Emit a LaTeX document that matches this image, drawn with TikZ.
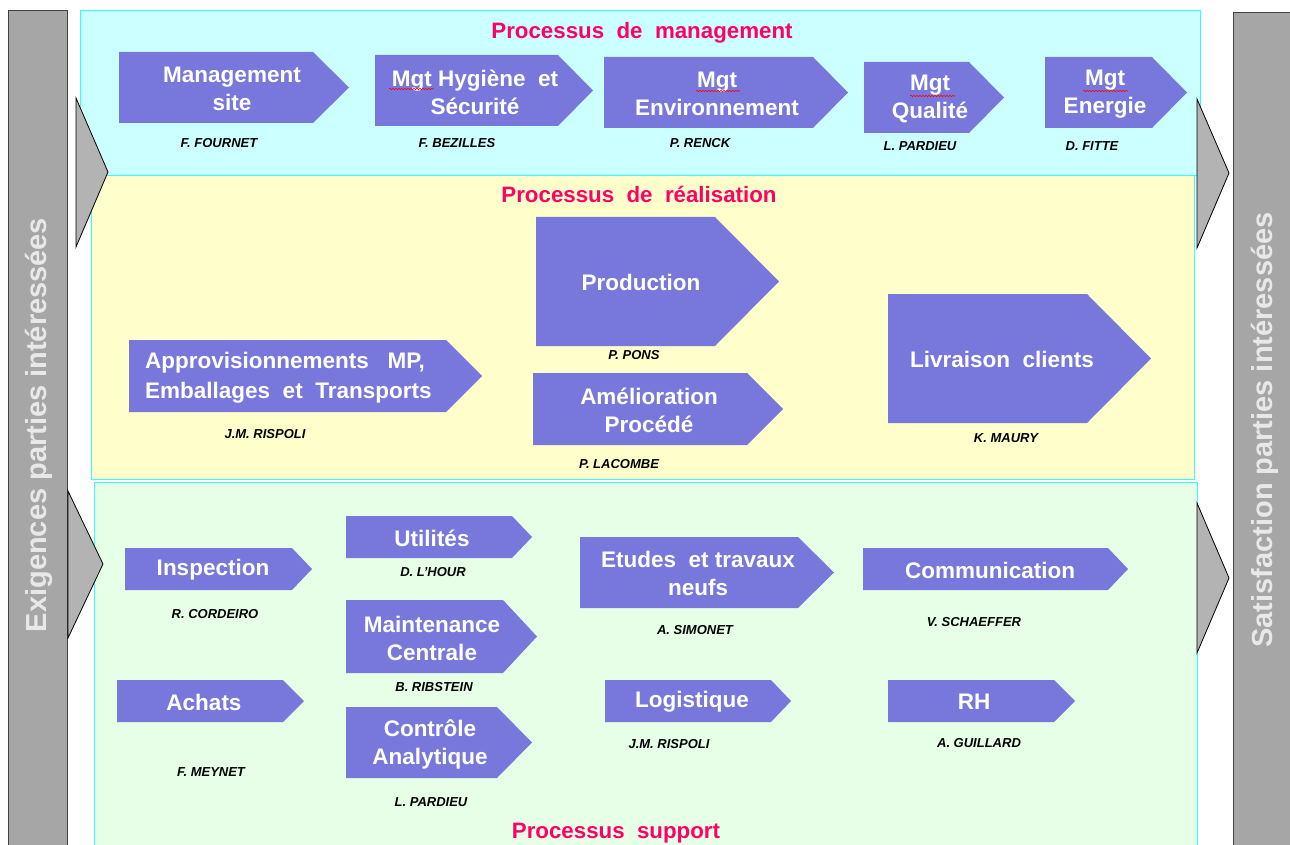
\documentclass[tikz,border=0pt]{standalone}
\usepackage{fontspec}
\setmainfont{Liberation Sans}
\usetikzlibrary{decorations.pathmorphing}
\definecolor{cyanbg}{HTML}{CCFFFF}
\definecolor{yellowbg}{HTML}{FFFFCC}
\definecolor{greenbg}{HTML}{E6FFE6}
\definecolor{edgecyan}{HTML}{33FFFF}
\definecolor{proc}{HTML}{7878DC}
\definecolor{barg}{HTML}{A6A6A6}
\definecolor{trig}{HTML}{B3B3B3}
\definecolor{titlered}{HTML}{FF0066}
\definecolor{bartext}{HTML}{E8E8E8}
\tikzset{
 region/.style={draw=edgecyan, line width=1pt},
 procshape/.style={fill=proc},
 proctext/.style={text=white, font=\fontsize{22.5}{28}\selectfont\bfseries, align=center, inner sep=0},
 owner/.style={font=\fontsize{13}{15}\selectfont\bfseries\itshape, inner sep=0},
 ptitle/.style={text=titlered, font=\fontsize{22.3}{26}\selectfont\bfseries, inner sep=0},
 sidebar/.style={fill=barg, draw=black!75, line width=1pt},
 sidetri/.style={fill=trig, draw=black, line width=0.8pt, line join=miter},
 sidetext/.style={text=bartext, font=\fontsize{29}{34}\selectfont\bfseries, rotate=90, inner sep=0},
 spell/.style={draw=red, line width=0.6pt, decorate, decoration={snake, amplitude=0.7pt, segment length=3pt}}
}
\newcommand{\procarrow}[5]{%
 \fill[procshape] (#1,#2) -- (#3,#2) -- (#4,{(#2+#5)/2}) -- (#3,#5) -- (#1,#5) -- cycle;}
\begin{document}
\begin{tikzpicture}[x=1pt,y=-1pt]
\useasboundingbox (0,0) rectangle (1290,845);
\fill[white] (0,0) rectangle (1290,845);
% regions
\fill[cyanbg] (80,11) rectangle (1200,176);
\draw[region] (80,11) rectangle (1200,176);
\fill[yellowbg] (91,176) rectangle (1194,479);
\draw[region] (91,176) rectangle (1194,479);
\fill[greenbg] (94,482) rectangle (1197,852);
\draw[region] (94,482) rectangle (1197,852);
% side bars
\draw[sidebar] (8,11) rectangle (67,852);
\draw[sidebar] (1233,13) rectangle (1302,852);
\node[sidetext] (exig) at (39,425) {Exigences parties intéressées};
\node[sidetext] (satis) at (1265,430) {Satisfaction parties intéressées};
% side triangles
\draw[sidetri] (76,98) -- (108,172) -- (76,247) -- cycle;
\draw[sidetri] (68,491) -- (103,564) -- (68,638) -- cycle;
\draw[sidetri] (1197,99) -- (1229,173) -- (1197,248) -- cycle;
\draw[sidetri] (1197,503) -- (1229,578) -- (1197,653) -- cycle;
% titles
\node[ptitle] (tman) at (642,33) {Processus~~de~~management};
\node[ptitle] (treal) at (639,194) {Processus~~de~~réalisation};
\node[ptitle] (tsup) at (616,833) {Processus~~support};
% management processes
\procarrow{119}{52}{313}{349}{123}
\node[proctext] (msite) at (232,89) {Management\\site};
\node[owner] (o1) at (219,143) {F. FOURNET};
\procarrow{375}{55}{558}{593}{126}
\node[proctext] (mhs) at (475,92) {Mgt~Hygiène~~et\\Sécurité};
\node[owner] (o2) at (457,143) {F. BEZILLES};
\procarrow{604}{57}{813}{848}{128}
\node[proctext] (menv) at (717,94) {Mgt\\Environnement};
\node[owner] (o3) at (700,143) {P. RENCK};
\procarrow{864}{62}{969}{1004}{133}
\node[proctext] (mqual) at (930,99) {Mgt\\Qualité};
\node[owner] (o4) at (920,146) {L. PARDIEU};
\procarrow{1045}{57}{1152}{1187}{128}
\node[proctext] (mener) at (1105,94) {Mgt\\Energie};
\node[owner] (o5) at (1092,146) {D. FITTE};
% realisation processes
\procarrow{536}{217}{715}{779}{346}
\node[proctext] (prod) at (641,282) {Production};
\node[owner] (o6) at (634,355) {P. PONS};
\procarrow{533}{373}{747}{783}{445}
\node[proctext] (amel) at (649,410) {Amélioration\\Procédé};
\node[owner] (o7) at (619,464) {P. LACOMBE};
\procarrow{888}{294}{1087}{1151}{423}
\node[proctext] (livr) at (1002,359) {Livraison~~clients};
\node[owner] (o8) at (1006,438) {K. MAURY};
\procarrow{129}{340}{446}{482}{412}
\node[proctext, align=left, anchor=west, font=\fontsize{22.5}{30}\selectfont\bfseries] (appro) at (145,378) {Approvisionnements~~~MP,\\Emballages~~et~~Transports};
\node[owner] (o9) at (265,434) {J.M. RISPOLI};
% support processes
\procarrow{125}{548}{292}{312}{590}
\node[proctext] (insp) at (213,570) {Inspection};
\node[owner] (o10) at (215,614) {R. CORDEIRO};
\procarrow{117}{680}{283}{304}{722}
\node[proctext] (ach) at (204,702) {Achats};
\node[owner] (o11) at (211,772) {F. MEYNET};
\procarrow{346}{516}{512}{532}{558}
\node[proctext] (util) at (432,538) {Utilités};
\node[owner] (o12) at (433,572) {D. L'HOUR};
\procarrow{346}{600}{503}{537}{673}
\node[proctext] (maint) at (432,638) {Maintenance\\Centrale};
\node[owner] (o13) at (434,687) {B. RIBSTEIN};
\procarrow{346}{707}{497}{532}{778}
\node[proctext] (ctrl) at (430,744) {Contrôle\\Analytique};
\node[owner] (o14) at (431,802) {L. PARDIEU};
\procarrow{580}{537}{798}{834}{608}
\node[proctext] (etud) at (698,573) {Etudes~~et~travaux\\neufs};
\node[owner] (o15) at (695,630) {A. SIMONET};
\procarrow{863}{548}{1108}{1128}{590}
\node[proctext] (comm) at (990,570) {Communication};
\node[owner] (o16) at (974,622) {V. SCHAEFFER};
\procarrow{605}{680}{771}{791}{722}
\node[proctext] (logi) at (692,702) {Logistique};
\node[owner] (o17) at (669,744) {J.M. RISPOLI};
\procarrow{888}{680}{1054}{1075}{722}
\node[proctext] (rh) at (974,702) {RH};
\node[owner] (o18) at (979,743) {A. GUILLARD};
% spell-check underlines under "Mgt"
\coordinate (s1a) at (389,89); \coordinate (s1b) at (434,89);
\coordinate (s2a) at (696,91); \coordinate (s2b) at (740,91);
\coordinate (s3a) at (910,96); \coordinate (s3b) at (955,96);
\coordinate (s4a) at (1083,91); \coordinate (s4b) at (1128,91);
\draw[spell] (s1a) -- (s1b);
\draw[spell] (s2a) -- (s2b);
\draw[spell] (s3a) -- (s3b);
\draw[spell] (s4a) -- (s4b);
\end{tikzpicture}
\end{document}
